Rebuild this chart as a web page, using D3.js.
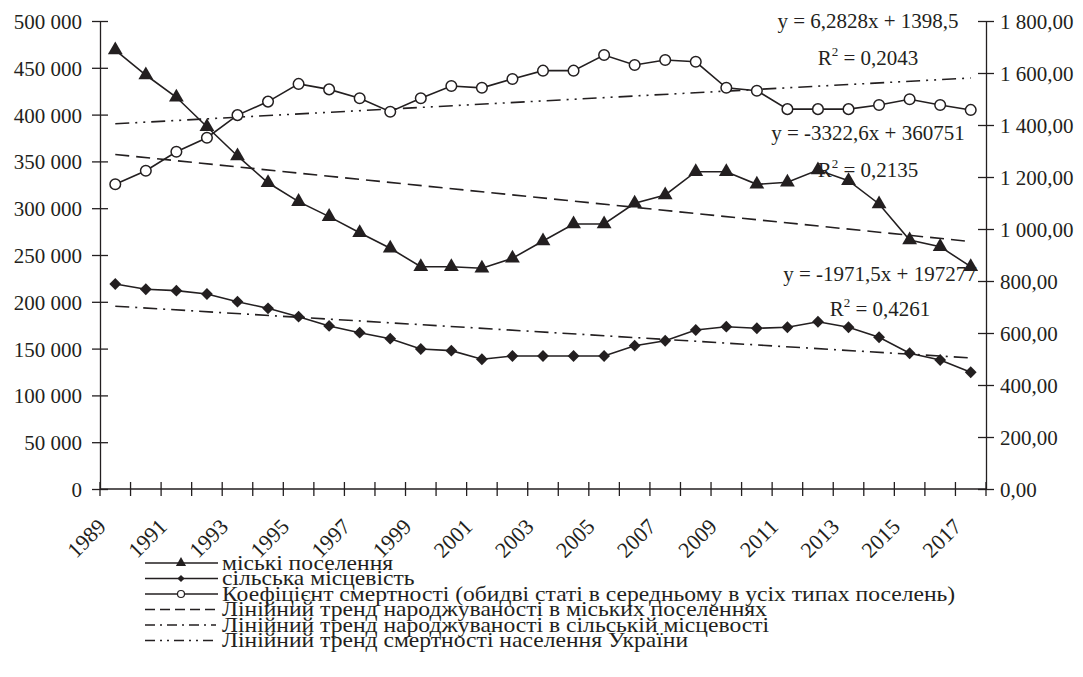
<!DOCTYPE html>
<html>
<head>
<meta charset="utf-8">
<script src="https://cdn.jsdelivr.net/npm/d3@7"></script>
<style>
  body { margin: 0; background: #fff; }
  svg text { font-family: "Liberation Serif", "DejaVu Serif", "Times New Roman", serif; fill: #231f20; }
</style>
</head>
<body>
<svg id="chart"></svg>
<script>
// Chart size
const width = 1083, height = 677;
const ink = "#231f20";
const serif = "'Liberation Serif', 'DejaVu Serif', 'Times New Roman', serif";

// Categories and values
const years = [1989, 1990, 1991, 1992, 1993, 1994, 1995, 1996, 1997, 1998,
  1999, 2000, 2001, 2002, 2003, 2004, 2005, 2006, 2007, 2008,
  2009, 2010, 2011, 2012, 2013, 2014, 2015, 2016, 2017];
const labelYears = [1989, 1991, 1993, 1995, 1997, 1999, 2001, 2003,
  2005, 2007, 2009, 2011, 2013, 2015, 2017];

// births, urban settlements (left axis)
const urban = [469000, 442300, 418500, 387000, 355800, 327200, 307000, 291000, 273800, 257200,
  237500, 237500, 235800, 246500, 265000, 283100, 283100, 305200, 314100, 339000,
  339000, 325500, 327700, 340800, 329400, 304500, 266000, 258900, 237500];
// births, rural areas (left axis)
const rural = [219000, 213400, 211900, 208300, 200100, 193000, 184100, 174200, 167000, 160600,
  149600, 147800, 138600, 142100, 142100, 142100, 142100, 153100, 158400, 169900,
  173400, 171700, 172800, 178700, 172800, 162100, 145000, 137800, 124700];
// mortality coefficient (right axis)
const mortality = [1172, 1224, 1297, 1351, 1438, 1490, 1558, 1537, 1503, 1451,
  1503, 1550, 1543, 1577, 1609, 1609, 1669, 1631, 1650, 1643,
  1543, 1532, 1461, 1461, 1461, 1477, 1499, 1477, 1458];

// trend lines: value at first and last year
const urbanTrend = [357400, 264400];
const ruralTrend = [195300, 140100];
const mortalityTrend = [1404.8, 1580.7];

const leftTicks = [0, 50000, 100000, 150000, 200000, 250000, 300000, 350000, 400000, 450000, 500000];
const rightTicks = [0, 200, 400, 600, 800, 1000, 1200, 1400, 1600, 1800];

const equations = [
  { eq: "y = 6,2828x + 1398,5", r2: "0,2043", x: 868, y: 28, y2: 65 },
  { eq: "y = -3322,6x + 360751", r2: "0,2135", x: 868, y: 140, y2: 177 },
  { eq: "y = -1971,5x + 197277", r2: "0,4261", x: 880, y: 281, y2: 316 }
];

const legendItems = [
  { label: "міські поселення", marker: "triangle", dash: null },
  { label: "сільська місцевість", marker: "diamond", dash: null },
  { label: "Коефіцієнт смертності (обидві статі в середньому в усіх типах поселень)", marker: "circle", dash: null },
  { label: "Лінійний тренд народжуваності в міських поселеннях", marker: null, dash: "10,5" },
  { label: "Лінійний тренд народжуваності в сільській місцевості", marker: null, dash: "10,5,2,5" },
  { label: "Лінійний тренд смертності населення України", marker: null, dash: "10,5,2,5,2,5" }
];

const svg = d3.select("#chart")
  .attr("width", width)
  .attr("height", height)
  .attr("font-family", serif);

// Scales
const x = d3.scaleBand().domain(years).range([100, 986]);
const xc = d => x(d) + x.bandwidth() / 2;
const yLeft = d3.scaleLinear().domain([0, 500000]).range([489, 21]);
const yRight = d3.scaleLinear().domain([0, 1800]).range([489, 21]);

const loc = d3.formatLocale({ decimal: ",", thousands: " ", grouping: [3], currency: ["", ""] });
const fmtLeft = loc.format(",d");
const fmtRight = loc.format(",.2f");

// === Axes ===
const leftAxis = svg.append("g")
  .attr("transform", "translate(100,0)")
  .call(d3.axisLeft(yLeft).tickValues(leftTicks).tickFormat(fmtLeft)
    .tickSizeOuter(0).tickSizeInner(8).tickPadding(10));

const rightAxis = svg.append("g")
  .attr("transform", "translate(986,0)")
  .call(d3.axisRight(yRight).tickValues(rightTicks).tickFormat(fmtRight)
    .tickSizeOuter(0).tickSizeInner(8).tickPadding(6));

[leftAxis, rightAxis].forEach(g => {
  g.attr("font-size", null).attr("font-family", serif);
  g.select(".domain").attr("stroke", ink).attr("stroke-width", 1.3);
  g.selectAll(".tick line").attr("x1", -8).attr("x2", 8).attr("stroke", ink).attr("stroke-width", 1.3);
  g.selectAll(".tick text").style("font-size", "21px").attr("dy", "0.36em");
});

// category axis with ticks between categories
const xAxis = svg.append("g");
xAxis.append("line")
  .attr("x1", 100).attr("x2", 986)
  .attr("y1", 489).attr("y2", 489)
  .attr("stroke", ink).attr("stroke-width", 1.3);
xAxis.selectAll(".xtick")
  .data(years.concat(["end"]))
  .enter()
  .append("line")
  .attr("class", "xtick")
  .attr("x1", d => d === "end" ? 986 : x(d))
  .attr("x2", d => d === "end" ? 986 : x(d))
  .attr("y1", 482).attr("y2", 496)
  .attr("stroke", ink).attr("stroke-width", 1.3);
xAxis.selectAll(".xlabel")
  .data(labelYears)
  .enter()
  .append("text")
  .attr("class", "xlabel")
  .attr("text-anchor", "end")
  .attr("transform", d => `translate(${xc(d) - 8},528) rotate(-45)`)
  .style("font-size", "22px")
  .text(d => d);

// === Trend lines ===
const trendLine = (vals, scale, dash) => {
  svg.append("line")
    .attr("x1", xc(years[0])).attr("x2", xc(years[years.length - 1]))
    .attr("y1", scale(vals[0])).attr("y2", scale(vals[1]))
    .attr("stroke", ink)
    .attr("stroke-width", 1.6)
    .attr("stroke-dasharray", dash);
};
trendLine(urbanTrend, yLeft, "14,7");
trendLine(ruralTrend, yLeft, "14,6,2,6");
trendLine(mortalityTrend, yRight, "14,6,2,6,2,6");

// === Equation labels ===
const eqG = svg.append("g").attr("text-anchor", "middle").style("font-size", "21px");
equations.forEach(e => {
  eqG.append("text").attr("x", e.x).attr("y", e.y).text(e.eq);
  const r = eqG.append("text").attr("x", e.x).attr("y", e.y2);
  r.append("tspan").text("R");
  r.append("tspan").attr("dy", -9).style("font-size", "13px").text("2");
  r.append("tspan").attr("dy", 9).text(" = " + e.r2);
});

// === Series ===
const lineGen = scale => d3.line()
  .x((d, i) => xc(years[i]))
  .y(d => scale(d));

const triangle = d3.symbol(d3.symbolTriangle, 95);
const diamond = d3.symbol(d3.symbolSquare, 70);

function drawSeries(values, scale, marker) {
  svg.append("path")
    .datum(values)
    .attr("fill", "none")
    .attr("stroke", ink)
    .attr("stroke-width", 1.6)
    .attr("d", lineGen(scale));

  const pts = svg.append("g")
    .selectAll("g")
    .data(values)
    .enter()
    .append("g")
    .attr("transform", (d, i) => `translate(${xc(years[i])},${scale(d)})`);

  if (marker === "triangle") {
    pts.append("path").attr("d", triangle).attr("fill", ink);
  } else if (marker === "diamond") {
    pts.append("path").attr("d", diamond).attr("transform", "rotate(45)").attr("fill", ink);
  } else {
    pts.append("circle").attr("r", 5.3).attr("fill", "#fff")
      .attr("stroke", ink).attr("stroke-width", 1.5);
  }
}

drawSeries(rural, yLeft, "diamond");
drawSeries(urban, yLeft, "triangle");
drawSeries(mortality, yRight, "circle");

// === Legend ===
const legend = svg.append("g").attr("transform", "translate(0,563)");
legendItems.forEach((item, i) => {
  const row = legend.append("g").attr("transform", `translate(0,${i * 15.5})`);
  row.append("line")
    .attr("x1", 145).attr("x2", item.dash ? 216 : 218)
    .attr("y1", 0).attr("y2", 0)
    .attr("stroke", ink)
    .attr("stroke-width", 1.5)
    .attr("stroke-dasharray", item.dash);
  if (item.marker === "triangle") {
    row.append("path").attr("transform", "translate(181,0)")
      .attr("d", d3.symbol(d3.symbolTriangle, 45)).attr("fill", ink);
  } else if (item.marker === "diamond") {
    row.append("path").attr("transform", "translate(181,0) rotate(45)")
      .attr("d", d3.symbol(d3.symbolSquare, 26)).attr("fill", ink);
  } else if (item.marker === "circle") {
    row.append("circle").attr("cx", 181).attr("r", 3.5)
      .attr("fill", "#fff").attr("stroke", ink).attr("stroke-width", 1.2);
  }
  // the source print is stretched sideways, so widen the text a little
  row.append("text")
    .attr("transform", "translate(222,0) scale(1.18,1)")
    .attr("dy", "0.33em")
    .style("font-size", "20px")
    .text(item.label);
});
</script>
</body>
</html>
